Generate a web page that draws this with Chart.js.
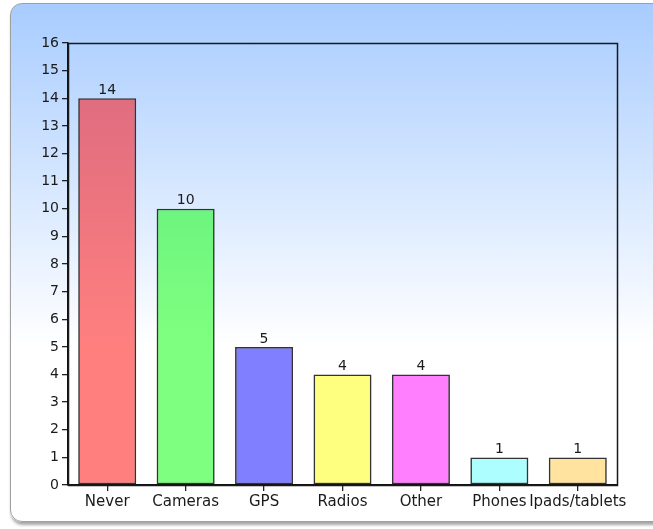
<!DOCTYPE html>
<html>
<head>
<meta charset="utf-8">
<script src="https://cdn.jsdelivr.net/npm/chart.js@4/dist/chart.umd.min.js"></script>
<style>
  html, body { margin: 0; padding: 0; background: #fff; }
  #wrap { position: relative; width: 653px; height: 529px; overflow: hidden; }
  #panel {
    position: absolute; left: 10px; top: 3px; width: 680px; height: 517px;
    border: 1px solid #a0a0a0; border-radius: 12px;
    background: linear-gradient(to bottom, #a8ccff 0%, #ffffff 66%, #ffffff 100%);
    box-shadow: 1px 3px 3px rgba(0,0,0,0.35);
  }
  #chart { position: absolute; left: 0; top: 0; }
</style>
</head>
<body>
<div id="wrap">
  <div id="panel"></div>
  <canvas id="chart" width="653" height="529"></canvas>
</div>
<script>
const categories = ['Never', 'Cameras', 'GPS', 'Radios', 'Other', 'Phones', 'Ipads/tablets'];
const counts = [14, 10, 5, 4, 4, 1, 1];
const barColors = [
  'rgba(255, 0, 0, 0.5)',
  'rgba(0, 255, 0, 0.5)',
  'rgba(0, 0, 255, 0.5)',
  'rgba(255, 255, 0, 0.5)',
  'rgba(255, 0, 255, 0.5)',
  'rgba(0, 255, 255, 0.32)',
  'rgba(255, 200, 64, 0.5)'
];
const yMax = 16;

// frame around the plot area
const frame = {
  id: 'frame',
  afterDraw(chart) {
    const { ctx, chartArea: a } = chart;
    ctx.save();
    ctx.strokeStyle = '#1a1a1a';
    ctx.lineWidth = 1.5;
    ctx.strokeRect(Math.round(a.left) + 0.5, Math.round(a.top) + 0.5,
      Math.round(a.right - a.left), Math.round(a.bottom - a.top));
    ctx.restore();
  }
};

// value labels on top of the bars
const valueLabels = {
  id: 'valueLabels',
  afterDatasetsDraw(chart) {
    const ctx = chart.ctx;
    ctx.save();
    ctx.font = '14px "DejaVu Sans"';
    ctx.fillStyle = '#1a1a1a';
    ctx.textAlign = 'center';
    ctx.textBaseline = 'bottom';
    chart.getDatasetMeta(0).data.forEach((bar, i) => {
      ctx.fillText(counts[i], bar.x, bar.y - 1);
    });
    ctx.restore();
  }
};

const ctx = document.getElementById('chart').getContext('2d');
new Chart(ctx, {
  type: 'bar',
  data: {
    labels: categories,
    datasets: [{
      data: counts,
      backgroundColor: barColors,
      borderColor: '#333',
      borderWidth: 1.6,
      borderSkipped: false,
      categoryPercentage: 1,
      barPercentage: 0.74
    }]
  },
  options: {
    responsive: false,
    animation: false,
    events: [],
    layout: { padding: { left: 10, right: 36, top: 43, bottom: 8 } },
    plugins: {
      legend: { display: false },
      tooltip: { enabled: false }
    },
    scales: {
      x: {
        afterFit: s => { s.height = 36; },
        grid: { drawOnChartArea: false, offset: false, color: '#222', tickLength: 6, lineWidth: 1.3 },
        border: { color: '#111', width: 1.5 },
        ticks: {
          autoSkip: false, maxRotation: 0, padding: 2,
          color: '#1a1a1a', font: { family: 'DejaVu Sans', size: 15 }
        }
      },
      y: {
        min: 0,
        max: yMax,
        afterFit: s => { s.width = 58; },
        grid: { drawOnChartArea: false, color: '#222', tickLength: 6, lineWidth: 1.3 },
        border: { color: '#111', width: 1.5 },
        ticks: {
          stepSize: 1, padding: 3,
          color: '#1a1a1a', font: { family: 'DejaVu Sans', size: 14 }
        }
      }
    }
  },
  plugins: [frame, valueLabels]
});
</script>
</body>
</html>
